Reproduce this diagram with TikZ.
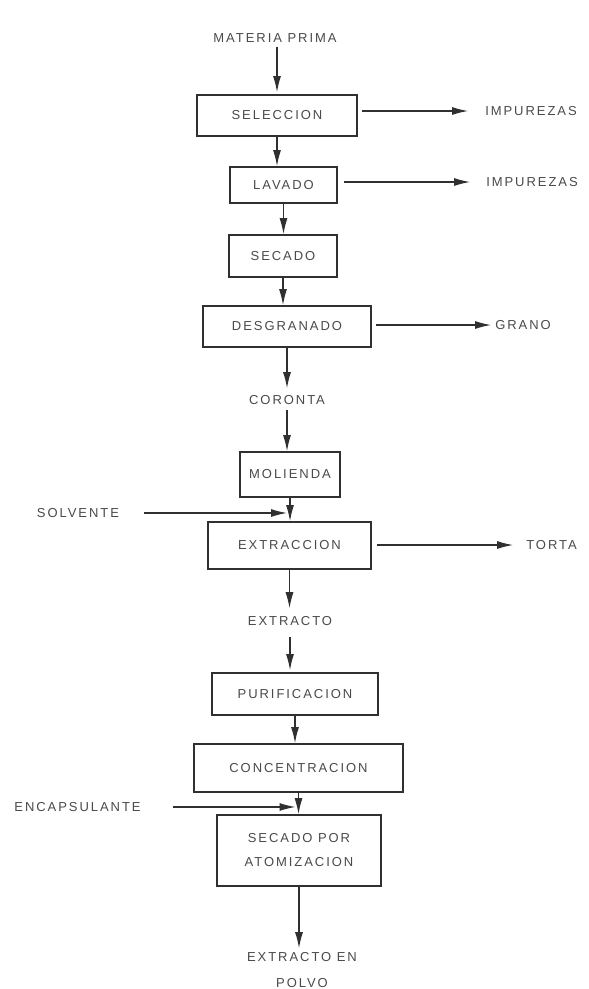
\documentclass[tikz,border=0pt]{standalone}
\usepackage{fontspec}
\setmainfont{Liberation Sans}[LetterSpace=15]
\usetikzlibrary{arrows.meta}
\definecolor{txt}{HTML}{4A4A4A}
\definecolor{ln}{HTML}{303030}
\begin{document}
\begin{tikzpicture}[x=1pt,y=-1pt,
  lbl/.style={inner sep=0pt, text=txt, font=\fontsize{13}{26}\selectfont, align=center},
  box/.style={draw=ln, line width=1.8pt, inner sep=0pt, text=txt, font=\fontsize{13}{24}\selectfont, align=center},
  arr/.style={draw=ln, line width=1.2pt, -{Latex[length=16pt,width=8pt]}}]
\useasboundingbox[fill=white] (0,0) rectangle (589,989);
% text labels
\node[lbl] (mp) at (275,38) {MATERIA PRIMA};
\node[lbl] (imp1) at (531,111) {IMPUREZAS};
\node[lbl] (imp2) at (532,182) {IMPUREZAS};
\node[lbl] (gra) at (523,325) {GRANO};
\node[lbl] (cor) at (287,400) {CORONTA};
\node[lbl] (sol) at (78,513) {SOLVENTE};
\node[lbl] (tor) at (551.5,545) {TORTA};
\node[lbl] (xt) at (290,621) {EXTRACTO};
\node[lbl] (enc) at (77.5,807) {ENCAPSULANTE};
\node[lbl] (pw) at (302,970) {EXTRACTO EN\\POLVO};
% boxes
\node[box, minimum width=160pt, minimum height=41pt] (sel) at (277,115.5) {SELECCION};
\node[box, minimum width=107pt, minimum height=36pt] (lav) at (283.5,185) {LAVADO};
\node[box, minimum width=108pt, minimum height=42pt] (sec) at (283,256) {SECADO};
\node[box, minimum width=168pt, minimum height=41pt] (des) at (287,326.5) {DESGRANADO};
\node[box, minimum width=100pt, minimum height=45pt] (mol) at (290,474.5) {MOLIENDA};
\node[box, minimum width=163pt, minimum height=47pt] (ext) at (289.5,545.5) {EXTRACCION};
\node[box, minimum width=166pt, minimum height=42pt] (pur) at (295,694) {PURIFICACION};
\node[box, minimum width=209pt, minimum height=48pt] (con) at (298.5,768) {CONCENTRACION};
\node[box, minimum width=164pt, minimum height=71pt] (ato) at (299,850.5) {SECADO POR\\ATOMIZACION};
% vertical flow
\draw[arr, shorten <=4pt, shorten >=2pt] (sel.north |- mp.south) -- (sel.north);
\draw[arr] (sel.south) -- (sel.south |- lav.north);
\draw[arr] (lav.south) -- (lav.south |- sec.north);
\draw[arr] (sec.south) -- (sec.south |- des.north);
\draw[arr, shorten >=7pt] (des.south) -- (des.south |- cor.north);
\draw[arr, shorten <=5pt] (cor.south) -- (cor.south |- mol.north);
\draw[arr] (mol.south) -- (mol.south |- ext.north);
\draw[arr, shorten >=8pt] (ext.south) -- (ext.south |- xt.north);
\draw[arr, shorten <=11pt, shorten >=2pt] (xt.south) -- (xt.south |- pur.north);
\draw[arr] (pur.south) -- (pur.south |- con.north);
\draw[arr] (con.south) -- (con.south |- ato.north);
\draw[arr, shorten >=4pt] (ato.south) -- (ato.south |- pw.north);
% side inputs
\coordinate (j1) at (mol.south |- sol.east);
\coordinate (j2) at (con.south |- enc.east);
\draw[arr, shorten <=25pt, shorten >=3pt] (sol.east) -- (j1);
\draw[arr, shorten <=32pt, shorten >=3pt] (enc.east) -- (j2);
% side outputs
\draw[arr, shorten <=4pt, shorten >=17pt] (sel.east |- imp1.west) -- (imp1.west);
\draw[arr, shorten <=6pt, shorten >=16pt] (lav.east |- imp2.west) -- (imp2.west);
\draw[arr, shorten <=4pt, shorten >=4pt] (des.east |- gra.west) -- (gra.west);
\draw[arr, shorten <=5pt, shorten >=13pt] (ext.east |- tor.west) -- (tor.west);
\end{tikzpicture}
\end{document}
